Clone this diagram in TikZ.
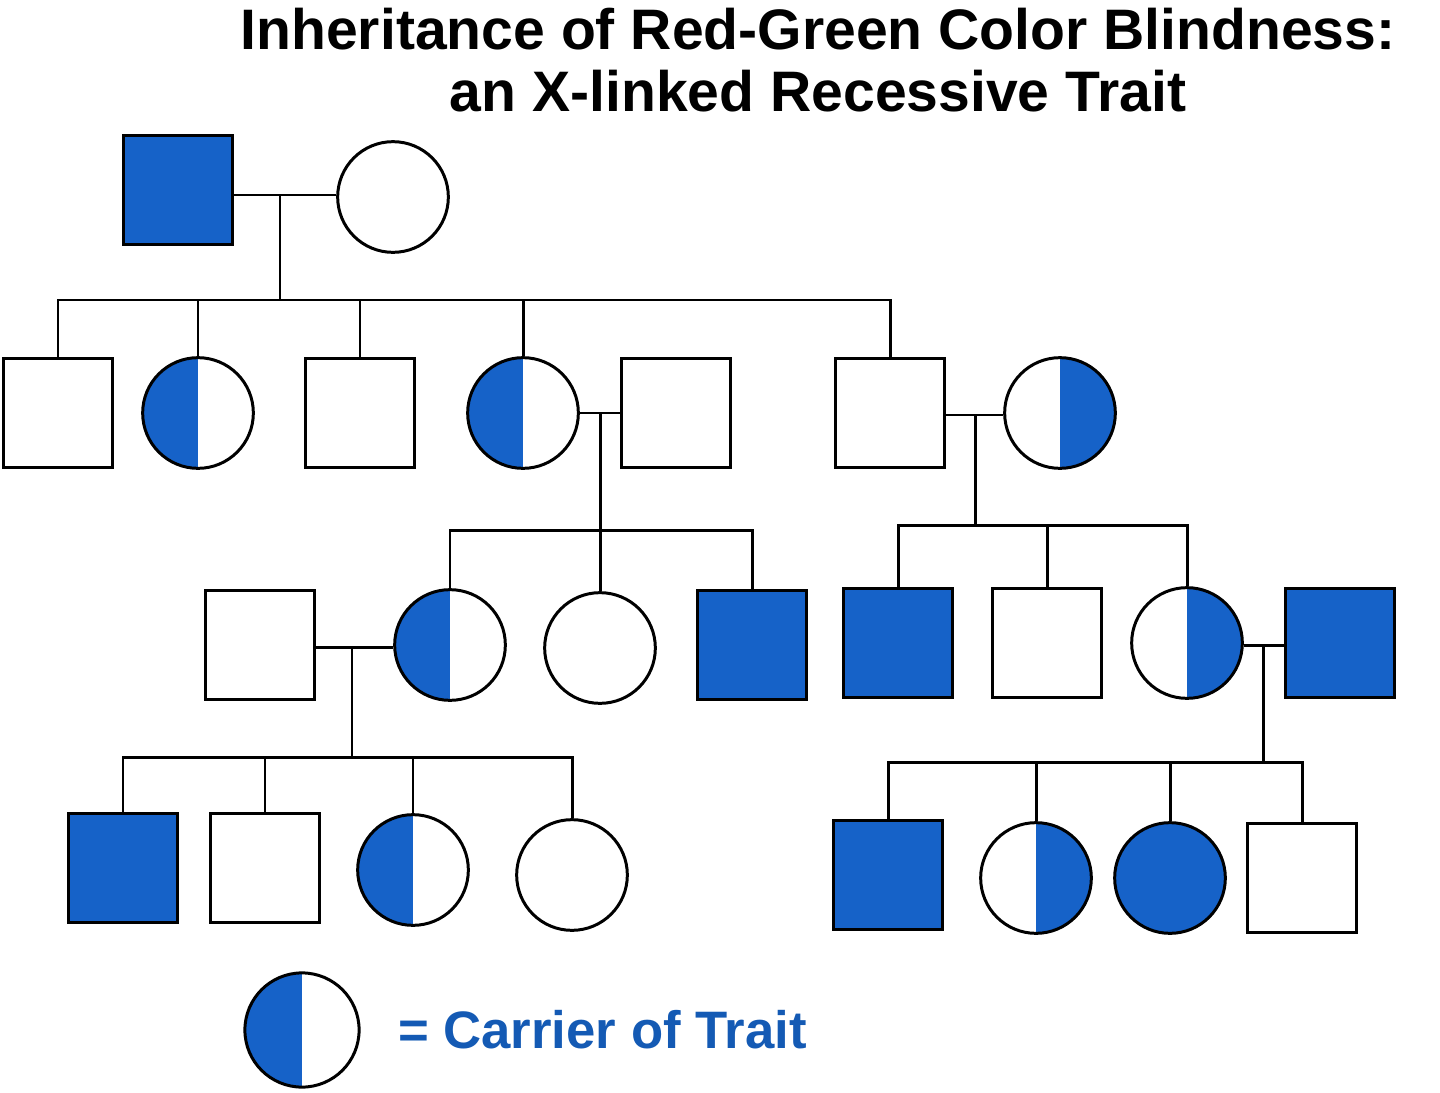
\documentclass[tikz,border=0pt]{standalone}
\usepackage{fontspec}
\setmainfont{Liberation Sans}
\definecolor{pblue}{RGB}{22,98,200}
\definecolor{tblue}{RGB}{20,90,180}
\begin{document}
\begin{tikzpicture}[x=0.02cm,y=-0.02cm,
  base/.style={draw=black,line width=1.7pt,inner sep=0pt},
  sq/.style={base,rectangle,minimum size=62pt},
  ci/.style={base,circle,minimum size=63pt},
  aff/.style={fill=pblue},
  carL/.style={ci,path picture={\fill[pblue] (path picture bounding box.north west) rectangle (path picture bounding box.south);}},
  carR/.style={ci,path picture={\fill[pblue] (path picture bounding box.north) rectangle (path picture bounding box.south east);}},
  ln/.style={line width=1.7pt}]
\useasboundingbox (0,0) rectangle (1440,1092);
\node[font=\fontsize{32.5}{35}\selectfont\bfseries,align=center] (title) at (818,60) {Inheritance of Red-Green Color Blindness:\\an X-linked Recessive Trait};
% gen 1
\node[sq,aff] (g1m) at (178,190) {};
\node[ci] (g1f) at (393,197) {};
% gen 2
\node[sq] (a1) at (58,413) {};
\node[carL] (a2) at (198,413) {};
\node[sq] (a3) at (360,413) {};
\node[carL] (a4) at (523,413) {};
\node[sq] (a5) at (676,413) {};
\node[sq] (a6) at (890,413) {};
\node[carR] (a7) at (1060,413) {};
% gen 3
\node[sq] (b1) at (260,645) {};
\node[carL] (b2) at (450,645) {};
\node[ci] (b3) at (600,648) {};
\node[sq,aff] (b4) at (752,645) {};
\node[sq,aff] (b5) at (898,643) {};
\node[sq] (b6) at (1047,643) {};
\node[carR] (b7) at (1187,643) {};
\node[sq,aff] (b8) at (1340,643) {};
% gen 4
\node[sq,aff] (c1) at (123,868) {};
\node[sq] (c2) at (265,868) {};
\node[carL] (c3) at (413,870) {};
\node[ci] (c4) at (572,875) {};
\node[sq,aff] (c5) at (888,875) {};
\node[carR] (c6) at (1036,878) {};
\node[ci,aff] (c7) at (1170,878) {};
\node[sq] (c8) at (1302,878) {};
% legend
\node[carL,minimum size=65pt] (leg) at (302,1030) {};
\node[anchor=west,text=tblue,font=\fontsize{30}{34}\selectfont\bfseries] (legt) at (392,1030) {= Carrier of Trait};
% coordinates
\coordinate (m1) at (280,195); \coordinate (s1) at (280,300);
\coordinate (m2) at (600,413); \coordinate (s2) at (600,530);
\coordinate (m3) at (975,415); \coordinate (s3) at (975,525);
\coordinate (m4) at (352,647); \coordinate (s4) at (352,757);
\coordinate (m5) at (1263,645); \coordinate (s5) at (1263,762);
% gen1 family
\draw[ln] (g1m.east |- m1) -- (g1f.west |- m1);
\draw[ln] (m1) -- (s1);
\draw[ln] (a1.north) -- (a1.north |- s1) -- (a6.north |- s1) -- (a6.north);
\foreach \n in {a2,a3,a4} \draw[ln] (\n.north) -- (\n.north |- s1);
% a4 x a5
\draw[ln] (a4.east) -- (a5.west);
\draw[ln] (m2) -- (s2);
\draw[ln] (b2.north) -- (b2.north |- s2) -- (b4.north |- s2) -- (b4.north);
\draw[ln] (b3.north) -- (b3.north |- s2);
% a6 x a7
\draw[ln] (a6.east |- m3) -- (a7.west |- m3);
\draw[ln] (m3) -- (s3);
\draw[ln] (b5.north) -- (b5.north |- s3) -- (b7.north |- s3) -- (b7.north);
\draw[ln] (b6.north) -- (b6.north |- s3);
% b1 x b2
\draw[ln] (b1.east |- m4) -- (b2.west |- m4);
\draw[ln] (m4) -- (s4);
\draw[ln] (c1.north) -- (c1.north |- s4) -- (c4.north |- s4) -- (c4.north);
\foreach \n in {c2,c3} \draw[ln] (\n.north) -- (\n.north |- s4);
% b7 x b8
\draw[ln] (b7.east |- m5) -- (b8.west |- m5);
\draw[ln] (m5) -- (s5);
\draw[ln] (c5.north) -- (c5.north |- s5) -- (c8.north |- s5) -- (c8.north);
\foreach \n in {c6,c7} \draw[ln] (\n.north) -- (\n.north |- s5);
\end{tikzpicture}
\end{document}
